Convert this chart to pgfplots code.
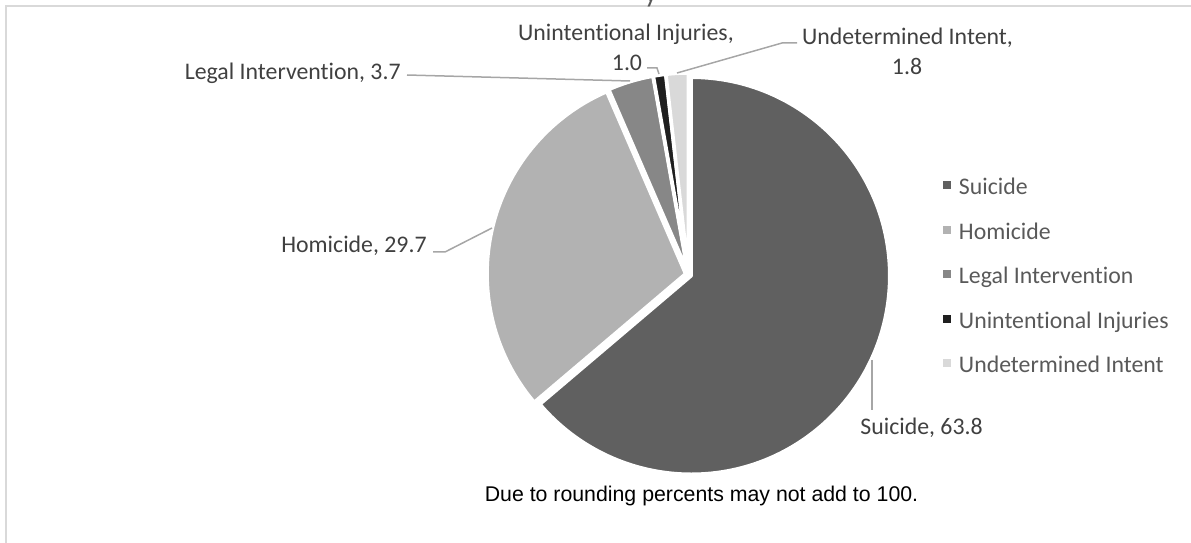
\documentclass[border=0pt]{standalone}
\usepackage{fontspec}
\setmainfont{Carlito}[Ligatures=NoCommon]
\newfontfamily\arialfont{Liberation Sans}
\usepackage{pgfplots}
\usepackage{pgfplotstable}
\pgfplotsset{compat=1.18}

\definecolor{cSui}{HTML}{606060}
\definecolor{cHom}{HTML}{B2B2B2}
\definecolor{cLeg}{HTML}{878787}
\definecolor{cUni}{HTML}{1F1F1F}
\definecolor{cUnd}{HTML}{D9D9D9}
\definecolor{labelcol}{HTML}{404040}
\definecolor{legcol}{HTML}{595959}
\definecolor{leadcol}{HTML}{A6A6A6}
\definecolor{framecol}{HTML}{D9D9D9}

\newcommand\lblfont{\fontsize{11.9pt}{14pt}\selectfont}

% percent of deaths by intent
\pgfplotstableread{
name value
Suicide 63.8
Homicide 29.7
Legal 3.7
Unintentional 1.0
Undetermined 1.8
}\piedata

\pgfplotstablegetelem{0}{value}\of\piedata\let\vA\pgfplotsretval
\pgfplotstablegetelem{1}{value}\of\piedata\let\vB\pgfplotsretval
\pgfplotstablegetelem{2}{value}\of\piedata\let\vC\pgfplotsretval
\pgfplotstablegetelem{3}{value}\of\piedata\let\vD\pgfplotsretval
\pgfplotstablegetelem{4}{value}\of\piedata\let\vE\pgfplotsretval

% pie geometry (axis units = pixels)
\def\Cx{688.5}\def\Cy{267.5}\def\D{3}\def\R{99.25pt}
\pgfmathsetmacro\aA{90}
\pgfmathsetmacro\bA{\aA-3.6*\vA}
\pgfmathsetmacro\bB{\bA-3.6*\vB}
\pgfmathsetmacro\bC{\bB-3.6*\vC}
\pgfmathsetmacro\bD{\bC-3.6*\vD}
\pgfmathsetmacro\bE{\bD-3.6*\vE}
\pgfmathsetmacro\mA{(\aA+\bA)/2}
\pgfmathsetmacro\mB{(\bA+\bB)/2}
\pgfmathsetmacro\mC{(\bB+\bC)/2}
\pgfmathsetmacro\mD{(\bC+\bD)/2}
\pgfmathsetmacro\mE{(\bD+\bE)/2}
\pgfmathsetmacro\xA{\Cx+\D*cos(\mA)}\pgfmathsetmacro\yA{\Cy+\D*sin(\mA)}
\pgfmathsetmacro\xB{\Cx+\D*cos(\mB)}\pgfmathsetmacro\yB{\Cy+\D*sin(\mB)}
\pgfmathsetmacro\xC{\Cx+\D*cos(\mC)}\pgfmathsetmacro\yC{\Cy+\D*sin(\mC)}
\pgfmathsetmacro\xD{\Cx+\D*cos(\mD)}\pgfmathsetmacro\yD{\Cy+\D*sin(\mD)}
\pgfmathsetmacro\xE{\Cx+\D*cos(\mE)}\pgfmathsetmacro\yE{\Cy+\D*sin(\mE)}

\begin{document}
\begin{tikzpicture}
\useasboundingbox (0,0) rectangle (595.5pt,271pt);
\begin{axis}[
  at={(0,0)}, anchor=south west, scale only axis,
  width=595.5pt, height=271pt,
  xmin=0, xmax=1191, ymin=0, ymax=542,
  hide axis, clip=false,
  legend image code/.code={\fill[#1,draw=none] (0pt,1.8pt) rectangle (4pt,5.8pt);},
  legend cell align=left,
  legend style={at={(0.79177,0.68524)}, anchor=north west, draw=none, fill=none,
    inner sep=0pt, outer sep=0pt, row sep=0pt, column sep=4pt,
    font=\lblfont, text=legcol,
    nodes={inner sep=0pt, text height=12pt, text depth=10.25pt}},
]
% chart frame
\addplot[framecol, line width=1pt, forget plot] coordinates {(6,-20) (6,536) (1220,536)};

% slices
\addplot[fill=cSui, draw=white, line width=1.75pt, line join=round]
  coordinates {(\xA,\yA)} -- ++(\aA:\R) arc[start angle=\aA, end angle=\bA, radius=\R] -- cycle;
\addlegendentry{Suicide}
\addplot[fill=cHom, draw=white, line width=1.75pt, line join=round]
  coordinates {(\xB,\yB)} -- ++(\bA:\R) arc[start angle=\bA, end angle=\bB, radius=\R] -- cycle;
\addlegendentry{Homicide}
\addplot[fill=cLeg, draw=white, line width=1.75pt, line join=round]
  coordinates {(\xC,\yC)} -- ++(\bB:\R) arc[start angle=\bB, end angle=\bC, radius=\R] -- cycle;
\addlegendentry{Legal Intervention}
\addplot[fill=cUni, draw=white, line width=1.75pt, line join=round]
  coordinates {(\xD,\yD)} -- ++(\bC:\R) arc[start angle=\bC, end angle=\bD, radius=\R] -- cycle;
\addlegendentry{Unintentional Injuries}
\addplot[fill=cUnd, draw=white, line width=1.75pt, line join=round]
  coordinates {(\xE,\yE)} -- ++(\bD:\R) arc[start angle=\bD, end angle=\bE, radius=\R] -- cycle;
\addlegendentry{Undetermined Intent}

% leader lines
\addplot[leadcol, line width=0.75pt, forget plot] coordinates {(872,182) (872,132)};
\addplot[leadcol, line width=0.75pt, forget plot] coordinates {(433,290) (445,290) (492,314)};
\addplot[leadcol, line width=0.75pt, forget plot] coordinates {(407,467) (630,461)};
\addplot[leadcol, line width=0.75pt, forget plot] coordinates {(647,474) (657,474) (659,468)};
\addplot[leadcol, line width=0.75pt, forget plot] coordinates {(797,499) (782,499) (677,469)};

% data labels
\begin{scope}[every node/.style={inner sep=0pt, font=\lblfont, text=labelcol}]
\node[anchor=base west] at (axis cs:860,107.4) {Suicide, 63.8};
\node[anchor=base east] at (axis cs:427,289.4) {Homicide, 29.7};
\node[anchor=base east] at (axis cs:401,462.4) {Legal Intervention, 3.7};
\node[anchor=base] at (axis cs:626,501.4) {Unintentional Injuries,};
\node[anchor=base] at (axis cs:627,471.4) {1.0};
\node[anchor=base] at (axis cs:907.5,497.4) {Undetermined Intent,};
\node[anchor=base] at (axis cs:907,467.4) {1.8};
\end{scope}

% title fragment and note
\node[anchor=base, inner sep=0pt, font=\fontsize{14pt}{17pt}\selectfont, text=legcol] at (axis cs:651,539) {y};
\node[anchor=base, inner sep=0pt, font=\arialfont\fontsize{10.65pt}{13pt}\selectfont, text=black]
  at (axis cs:701.5,40.4) {Due to rounding percents may not add to 100.};
\end{axis}
\end{tikzpicture}
\end{document}
